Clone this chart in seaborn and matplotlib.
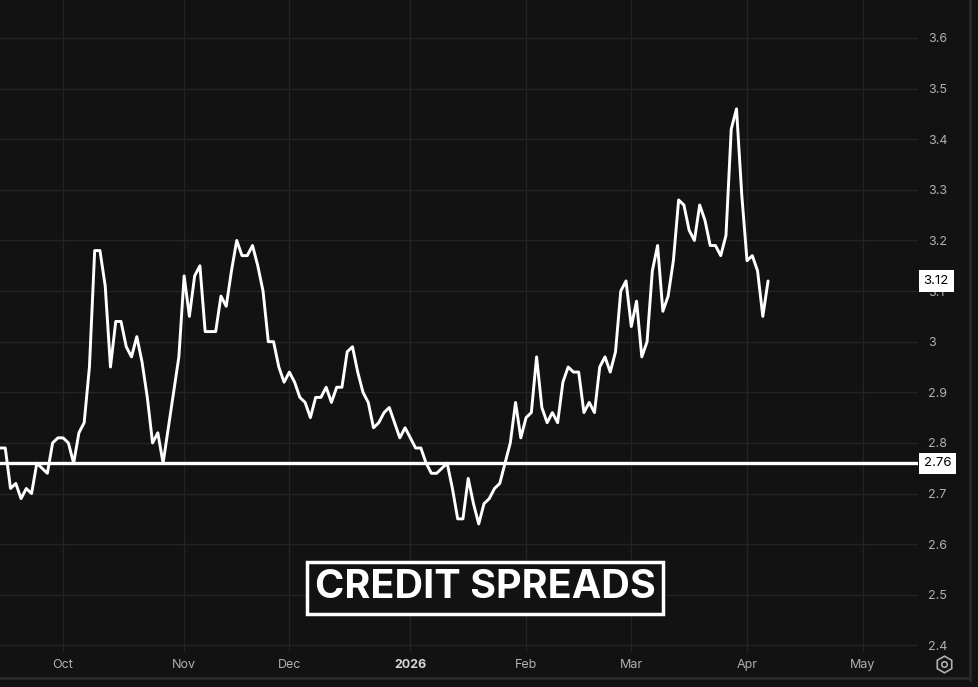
import matplotlib
matplotlib.use('Agg')
import matplotlib.pyplot as plt
from matplotlib.lines import Line2D
import numpy as np
import pandas as pd
import seaborn as sns

BG = '#121212'
GRID = '#232323'
TXT = '#aeb0b6'

# daily high-yield OAS readings (weekdays), 15 Sep 2025 -> 7 Apr 2026
start_date = '2025-09-15'
spread = [2.79, 2.79, 2.71, 2.72, 2.69, 2.71, 2.70, 2.76, 2.75, 2.74,
          2.80, 2.81, 2.81, 2.80, 2.76, 2.82, 2.84, 2.95, 3.18, 3.18,
          3.11, 2.95, 3.04, 3.04, 2.99, 2.97, 3.01, 2.96, 2.89, 2.80,
          2.82, 2.76, 2.83, 2.90, 2.97, 3.13, 3.05, 3.13, 3.15, 3.02,
          3.02, 3.02, 3.09, 3.07, 3.14, 3.20, 3.17, 3.17, 3.19, 3.15,
          3.10, 3.00, 3.00, 2.95, 2.92, 2.94, 2.92, 2.89, 2.88, 2.85,
          2.89, 2.89, 2.91, 2.88, 2.91, 2.91, 2.98, 2.99, 2.94, 2.90,
          2.88, 2.83, 2.84, 2.86, 2.87, 2.84, 2.81, 2.83, 2.81, 2.79,
          2.79, 2.76, 2.74, 2.74, 2.75, 2.76, 2.71, 2.65, 2.65, 2.73,
          2.68, 2.64, 2.68, 2.69, 2.71, 2.72, 2.76, 2.80, 2.88, 2.81,
          2.85, 2.86, 2.97, 2.87, 2.84, 2.86, 2.84, 2.92, 2.95, 2.94,
          2.94, 2.86, 2.88, 2.86, 2.95, 2.97, 2.94, 2.98, 3.10, 3.12,
          3.03, 3.08, 2.97, 3.00, 3.14, 3.19, 3.06, 3.09, 3.16, 3.28,
          3.27, 3.22, 3.20, 3.27, 3.24, 3.19, 3.19, 3.17, 3.21, 3.42,
          3.46, 3.29, 3.16, 3.17, 3.14, 3.05, 3.12]
support_level = 2.76
axis_end_date = '2026-05-29'
month_labels = ['Oct', 'Nov', 'Dec', '2026', 'Feb', 'Mar', 'Apr', 'May']
price_ticks = [2.4, 2.5, 2.6, 2.7, 2.8, 2.9, 3.0, 3.1, 3.2, 3.3, 3.4, 3.5, 3.6]
title = 'CREDIT SPREADS'

sns.set_theme(style='dark', rc={'axes.facecolor': BG, 'figure.facecolor': BG,
                                'grid.color': GRID, 'text.color': TXT,
                                'xtick.color': TXT, 'ytick.color': TXT})
plt.rcParams['font.family'] = ['Inter', 'DejaVu Sans']

dates = pd.bdate_range(start_date, periods=len(spread))
df = pd.DataFrame({'date': dates, 'bar': np.arange(len(spread)), 'spread': spread})

# full bar axis, incl. future bars to the right of the last reading
all_bars = pd.bdate_range(start_date, axis_end_date)
first_of_month = pd.Series(np.arange(len(all_bars)), index=all_bars)
first_of_month = first_of_month.groupby([all_bars.year, all_bars.month]).min().values[1:]

W, H = 979, 687
fig = plt.figure(figsize=(W / 100, H / 100), dpi=100)
ax = fig.add_axes([0, 1 - 652 / H, 918 / W, 652 / H])

sns.lineplot(data=df, x='bar', y='spread', color='white', linewidth=2.1, ax=ax)
ax.axhline(support_level, color='white', linewidth=2.4)

ax.set_xlim(0, 174.5)
ax.set_ylim(2.387, 3.675)
ax.set_xlabel('')
ax.set_ylabel('')
for s in ax.spines.values():
    s.set_visible(False)

ax.grid(True, color=GRID, linewidth=1)
ax.set_xticks(first_of_month)
ax.set_xticklabels(month_labels)
ax.set_yticks(price_ticks)
ax.set_yticklabels([f'{v:g}' for v in price_ticks])
ax.yaxis.tick_right()
ax.tick_params(axis='y', length=0, pad=7, labelsize=9, labelcolor=TXT)
ax.tick_params(axis='x', length=0, pad=5, labelsize=9, labelcolor=TXT)
for lab in ax.get_xticklabels():
    if lab.get_text() == '2026':
        lab.set_fontweight('bold')
        lab.set_color('#d6d7db')

# price tags on the right scale
for val in [spread[-1], support_level]:
    ax.annotate(f'{val:.2f}', xy=(1, val), xycoords=('axes fraction', 'data'),
                xytext=(4, 0), textcoords='offset points', ha='left', va='center',
                fontsize=9.5, color='black', annotation_clip=False,
                bbox=dict(boxstyle='square,pad=0.35', fc='white', ec='none'))

fig.text(485 / W, 1 - 588 / H, title, ha='center', va='center', fontsize=28.5,
         fontweight='bold', color='white',
         bbox=dict(boxstyle='square,pad=0.2', fc=BG, ec='white', lw=2.5))

# panel separators and settings icon
fig.add_artist(Line2D([970 / W, 970 / W], [1 - 680 / H, 1], color='#2a2a2a',
                      lw=2, transform=fig.transFigure))
fig.add_artist(Line2D([0, 970 / W], [1 - 678 / H, 1 - 678 / H], color='#2a2a2a',
                      lw=2, transform=fig.transFigure))
fig.add_artist(Line2D([944 / W], [1 - 664 / H], marker='h', ms=12, mfc='none',
                      mec=TXT, mew=1.2, transform=fig.transFigure))
fig.add_artist(Line2D([944 / W], [1 - 664 / H], marker='o', ms=4, mfc='none',
                      mec=TXT, mew=1.2, transform=fig.transFigure))

fig.savefig('out.png', dpi=100, facecolor=BG)
